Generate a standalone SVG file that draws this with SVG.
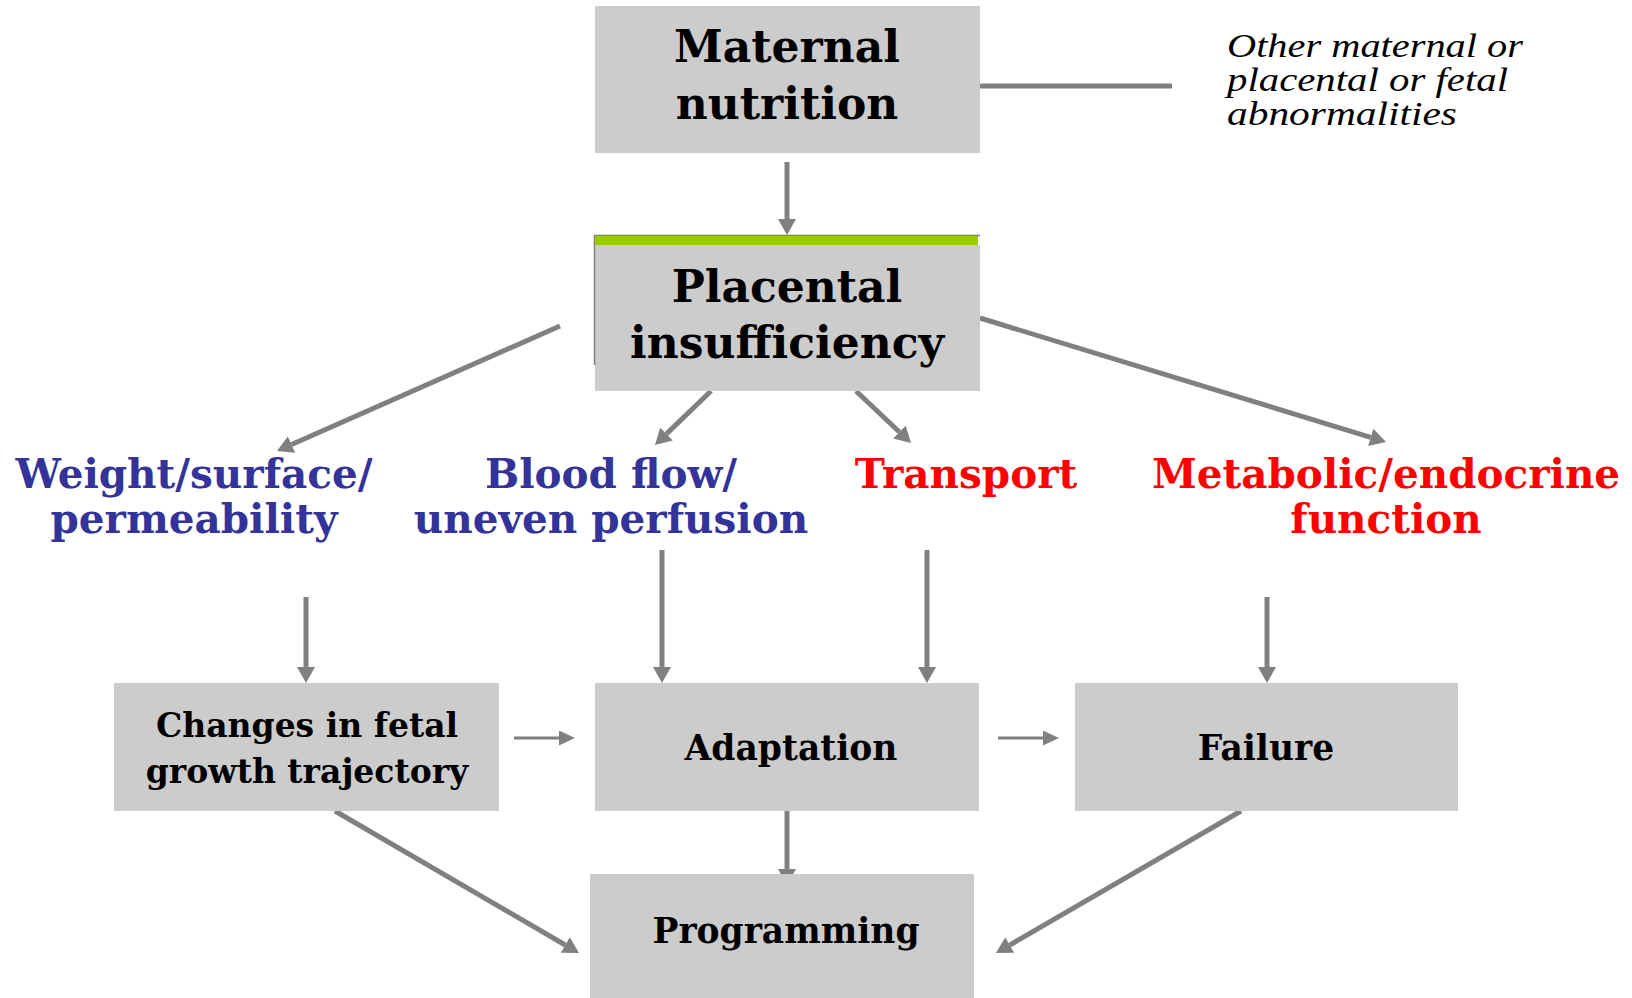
<svg xmlns="http://www.w3.org/2000/svg" width="1632" height="998" viewBox="0 0 1632 998">
<style>
.box{fill:#CCCCCC}
.t{font-family:"DejaVu Serif","Liberation Serif",serif;font-weight:bold;text-anchor:middle}
.big{font-size:44px;fill:#000}
.mid{font-size:33px;fill:#000}
.mid2{font-size:34.5px;fill:#000}
.lbl{font-size:40.5px}
.blue{fill:#333399}
.red{fill:#FF0000}
.it{font-family:"Liberation Serif","Times New Roman",serif;font-style:italic;font-size:34px;fill:#000}
.c{stroke:#808080;stroke-width:5;fill:none}
.cs{stroke:#808080;stroke-width:3;fill:none}
</style>
<defs>
<marker id="ah" markerUnits="userSpaceOnUse" markerWidth="16" markerHeight="18" refX="0" refY="9" orient="auto">
<path d="M0,0 L16,9 L0,18 z" fill="#808080"/>
</marker>
<marker id="ahs" markerUnits="userSpaceOnUse" markerWidth="16" markerHeight="15" refX="0" refY="7.5" orient="auto">
<path d="M0,0 L16,7.5 L0,15 z" fill="#808080"/>
</marker>
</defs>
<rect width="1632" height="998" fill="#FFFFFF"/>
<g id="connectors">
<line class="c" x1="787" y1="162" x2="787" y2="219" marker-end="url(#ah)"/>
<line class="c" x1="980" y1="86" x2="1172" y2="86"/>
<line class="c" x1="560" y1="326" x2="291.6" y2="444.5" marker-end="url(#ah)"/>
<line class="c" x1="711" y1="391" x2="666.5" y2="433.9" marker-end="url(#ah)"/>
<line class="c" x1="856" y1="391" x2="899.4" y2="432" marker-end="url(#ah)"/>
<line class="c" x1="980" y1="318" x2="1370.7" y2="437.3" marker-end="url(#ah)"/>
<line class="c" x1="306" y1="597" x2="306" y2="667" marker-end="url(#ah)"/>
<line class="c" x1="662" y1="550" x2="662" y2="667" marker-end="url(#ah)"/>
<line class="c" x1="927" y1="550" x2="927" y2="667" marker-end="url(#ah)"/>
<line class="c" x1="1267" y1="597" x2="1267" y2="667" marker-end="url(#ah)"/>
<line class="cs" x1="514" y1="738" x2="559" y2="738" marker-end="url(#ahs)"/>
<line class="cs" x1="998" y1="738" x2="1043" y2="738" marker-end="url(#ahs)"/>
<line class="c" x1="787" y1="811" x2="787" y2="869" marker-end="url(#ah)"/>
<line class="c" x1="335" y1="811" x2="565.2" y2="945" marker-end="url(#ah)"/>
<line class="c" x1="1241" y1="811" x2="1009.8" y2="945" marker-end="url(#ah)"/>
</g>
<g id="maternal">
<rect class="box" x="595" y="6" width="385" height="147"/>
<text class="t big" x="787" y="62">Maternal</text>
<text class="t big" x="787" y="119">nutrition</text>
</g>
<g id="other">
<text class="it" x="1227" y="57" textLength="296" lengthAdjust="spacingAndGlyphs">Other maternal or</text>
<text class="it" x="1227" y="91" textLength="281" lengthAdjust="spacingAndGlyphs">placental or fetal</text>
<text class="it" x="1227" y="125" textLength="230" lengthAdjust="spacingAndGlyphs">abnormalities</text>
</g>
<g id="placental">
<rect class="box" x="595" y="245" width="385" height="146"/>
<path d="M594.5,365 L594.5,235.5 L980,235.5" stroke="#808080" stroke-width="1.5" fill="none"/>
<rect x="595" y="236" width="383" height="9" fill="#99CC00"/>
<text class="t big" x="787" y="302">Placental</text>
<text class="t big" x="787" y="358">insufficiency</text>
</g>
<g id="weight">
<text class="t lbl blue" x="194" y="488">Weight/surface/</text>
<text class="t lbl blue" x="194" y="533">permeability</text>
</g>
<g id="bloodflow">
<text class="t lbl blue" x="611" y="488">Blood flow/</text>
<text class="t lbl blue" x="611" y="533">uneven perfusion</text>
</g>
<g id="transport">
<text class="t lbl red" x="966" y="488">Transport</text>
</g>
<g id="metabolic">
<text class="t lbl red" x="1386" y="488">Metabolic/endocrine</text>
<text class="t lbl red" x="1386" y="533">function</text>
</g>
<g id="changes">
<rect class="box" x="114" y="683" width="385" height="128"/>
<text class="t mid" x="307" y="737">Changes in fetal</text>
<text class="t mid" x="307" y="783">growth trajectory</text>
</g>
<g id="adaptation">
<rect class="box" x="595" y="683" width="384" height="128"/>
<text class="t mid2" x="791" y="760">Adaptation</text>
</g>
<g id="failure">
<rect class="box" x="1075" y="683" width="383" height="128"/>
<text class="t mid2" x="1266" y="760">Failure</text>
</g>
<g id="programming">
<rect class="box" x="590" y="874" width="384" height="124"/>
<text class="t mid2" x="786" y="943">Programming</text>
</g>
</svg>
